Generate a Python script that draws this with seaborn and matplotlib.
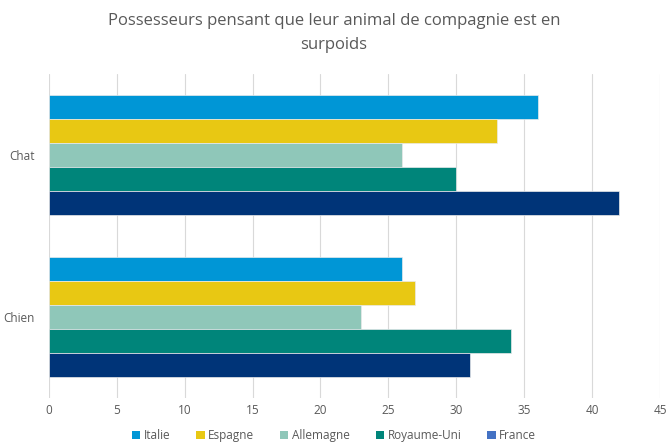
import matplotlib
matplotlib.use("Agg")
import matplotlib.pyplot as plt
from matplotlib.patches import Patch
import pandas as pd
import seaborn as sns

# data
animals = ["Chat", "Chien"]
countries = ["Italie", "Espagne", "Allemagne", "Royaume-Uni", "France"]
chat_values = [36, 33, 26, 30, 42]
chien_values = [26, 27, 23, 34, 31]
bar_colors = ["#0096d6", "#e8c813", "#8fc7b9", "#00857a", "#003478"]
legend_colors = ["#0096d6", "#e8c813", "#8fc7b9", "#00857a", "#4472c4"]

rows = []
for country, v in zip(countries, chat_values):
    rows.append({"animal": "Chat", "country": country, "value": v})
for country, v in zip(countries, chien_values):
    rows.append({"animal": "Chien", "country": country, "value": v})
df = pd.DataFrame(rows)

sns.set_style("white")
plt.rcParams["font.family"] = ["Open Sans", "DejaVu Sans"]

fig = plt.figure(figsize=(6.68, 4.45), dpi=100)
ax = fig.add_axes([0.073, 0.105, 0.915, 0.729])

sns.barplot(data=df, x="value", y="animal", hue="country", order=animals,
            hue_order=countries, palette=bar_colors, orient="h", width=0.74,
            gap=0, saturation=1, errorbar=None, ax=ax, legend=False,
            linewidth=0.5, edgecolor="#eaeaea")

ax.set_xlim(0, 45)
ax.set_xticks(range(0, 46, 5))
ax.grid(axis="x", color="#d9d9d9", linewidth=0.8)
ax.set_axisbelow(True)
for s in ax.spines.values():
    s.set_visible(False)
ax.set_xlabel("")
ax.set_ylabel("")
ax.tick_params(axis="both", length=0, labelsize=8.5, labelcolor="#595959")
ax.tick_params(axis="x", pad=4)
ax.tick_params(axis="y", pad=10)

fig.suptitle("Possesseurs pensant que leur animal de compagnie est en\nsurpoids",
             x=0.5, y=0.97, fontsize=12, color="#595959", linespacing=1.6)

handles = [Patch(facecolor=c, edgecolor="none") for c in legend_colors]
fig.legend(handles, countries, loc="lower center", bbox_to_anchor=(0.5, -0.012),
           ncol=5, frameon=False, fontsize=8.5, labelcolor="#595959",
           handlelength=0.7, handleheight=0.7, handletextpad=0.3, columnspacing=2.2,
           borderpad=0.2)

fig.savefig("out.png", dpi=100)
